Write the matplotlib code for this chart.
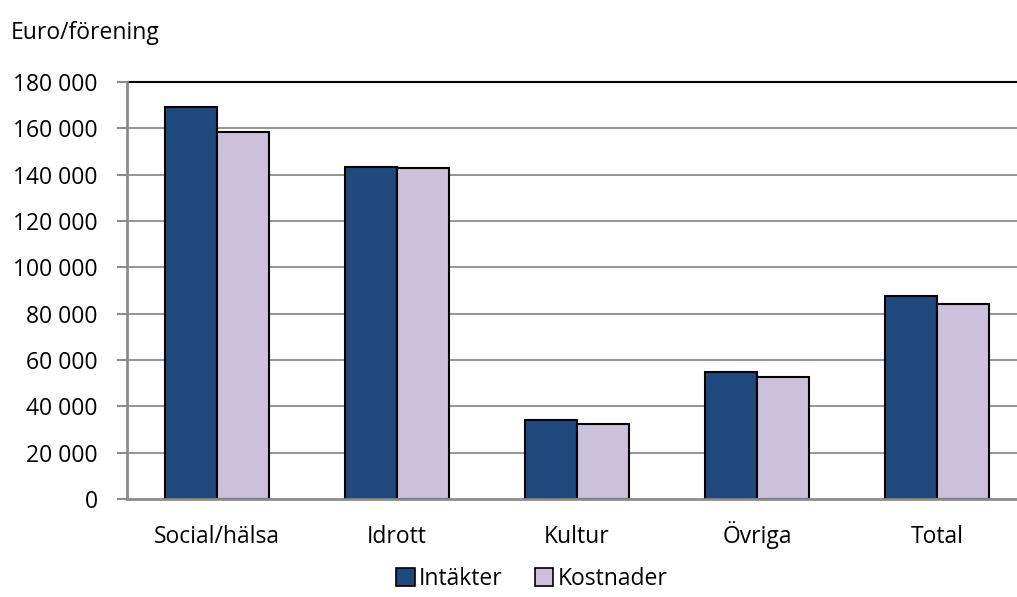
import matplotlib
matplotlib.use("Agg")
import matplotlib.pyplot as plt
import numpy as np
from matplotlib.patches import Patch

categories = ["Social/hälsa", "Idrott", "Kultur", "Övriga", "Total"]
intakter = [169000, 143500, 34000, 55000, 87500]
kostnader = [158500, 143000, 32400, 52500, 84000]
series_names = ["Intäkter", "Kostnader"]
yticks = list(range(0, 180001, 20000))
ytick_labels = ["0", "20 000", "40 000", "60 000", "80 000", "100 000",
                "120 000", "140 000", "160 000", "180 000"]

plt.rcParams['font.family'] = ['Open Sans', 'DejaVu Sans']
FS = 16.5

W, H = 1017, 597
fig = plt.figure(figsize=(W / 100, H / 100), dpi=100)
ax = fig.add_axes([127 / W, (H - 499) / H, 900 / W, 417 / H])

x = np.arange(len(categories))
bw = 52 / 180
c1, c2 = "#1F497D", "#CCC1DA"
ax.bar(x - bw / 2, intakter, bw, color=c1, edgecolor="black", linewidth=1.5, zorder=3)
ax.bar(x + bw / 2, kostnader, bw, color=c2, edgecolor="black", linewidth=1.5, zorder=3)

ax.set_xlim(-0.5, 4.5)
ax.set_ylim(0, 180000)
ax.set_yticks(yticks)
ax.set_yticklabels(ytick_labels, fontsize=FS)
ax.set_xticks(x)
ax.set_xticklabels(categories, fontsize=FS)
ax.tick_params(axis="x", length=0, pad=32)
for lbl in ax.get_xticklabels():
    lbl.set_va("baseline")
ax.tick_params(axis="y", length=7, width=1.5, color="#8c8c8c", pad=14)
for lbl in ax.get_yticklabels():
    lbl.set_color("black")

for y in yticks[1:-1]:
    ax.axhline(y, color="#8c8c8c", linewidth=1.3, zorder=1)
ax.axhline(180000, color="black", linewidth=1.5, zorder=1, clip_on=False)

for s in ["top", "right"]:
    ax.spines[s].set_visible(False)
ax.spines["left"].set_color("#8c8c8c")
ax.spines["left"].set_linewidth(2)
ax.spines["bottom"].set_color("#8c8c8c")
ax.spines["bottom"].set_linewidth(2)
ax.spines["bottom"].set_zorder(4)

fig.text(11 / W, 1 - 33 / H, "Euro/förening", fontsize=FS, ha="left", va="center")

handles = [Patch(facecolor=c1, edgecolor="black", linewidth=1.2),
           Patch(facecolor=c2, edgecolor="black", linewidth=1.2)]
fig.legend(handles, series_names, loc="center", bbox_to_anchor=(532 / W, 1 - 579 / H),
           ncol=2, frameon=False, fontsize=FS, handlelength=0.8, handleheight=0.8,
           handletextpad=0.2, columnspacing=1.4, borderpad=0)

fig.savefig("out.png", dpi=100)
